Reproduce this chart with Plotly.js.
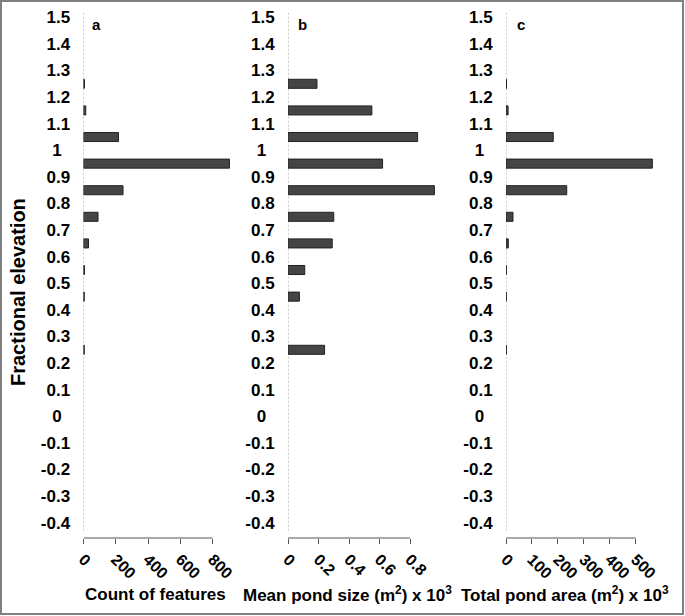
<!DOCTYPE html>
<html>
<head>
<meta charset="utf-8">
<script src="https://cdn.plot.ly/plotly-3.0.1.min.js"></script>
<style>
  html, body { margin: 0; padding: 0; background: #fff; }
  #wrap { position: relative; width: 685px; height: 616px; }
  #chart { position: absolute; left: 0; top: 0; width: 685px; height: 616px; }
  #frame { position: absolute; left: 0; top: 0; width: 684px; height: 615px; box-sizing: border-box; border: 2px solid #808080; pointer-events: none; }
</style>
</head>
<body>
<div id="wrap"><div id="chart"></div><div id="frame"></div></div>
<script>
// ---- data ----
const elevation = [1.25, 1.15, 1.05, 0.95, 0.85, 0.75, 0.65, 0.55, 0.45, 0.35, 0.25];
const countOfFeatures = [6, 14, 217, 905, 245, 90, 31, 6, 5, null, 5];
const meanPondSize = [0.19, 0.55, 0.85, 0.62, 0.96, 0.30, 0.29, 0.11, 0.075, null, 0.24];
const totalPondArea = [2, 8, 182, 564, 234, 27, 9, 1, 1, null, 1];

const yTickVals = [1.5, 1.4, 1.3, 1.2, 1.1, 1, 0.9, 0.8, 0.7, 0.6, 0.5, 0.4, 0.3, 0.2, 0.1, 0, -0.1, -0.2, -0.3, -0.4];
const yTickText = ['1.5', '1.4', '1.3', '1.2', '1.1', '1\u2002', '0.9', '0.8', '0.7', '0.6', '0.5', '0.4', '0.3', '0.2', '0.1', '0\u2002', '-0.1', '-0.2', '-0.3', '-0.4'];

const xTicksA = [0, 200, 400, 600, 800];
const xTicksB = [0, 0.2, 0.4, 0.6, 0.8];
const xTicksC = [0, 100, 200, 300, 400, 500];

const panelLetters = ['a', 'b', 'c'];
const xTitles = ['Count of features', 'Mean pond size (m<sup>2</sup>) x 10<sup>3</sup>', 'Total pond area (m<sup>2</sup>) x 10<sup>3</sup>'];
const yTitle = 'Fractional elevation';

// ---- styling / layout ----
const W = 685, H = 616;
const FONT = 'Arial, "Liberation Sans", sans-serif';
const px = v => v / W;
const py = v => 1 - v / H;

const yDomain = [py(538), py(12)];
const yRange = [-0.4575, 1.52];

const panels = [
  { x0: 83.5, x1: 231.9, range: [0, 920], ticks: xTicksA, data: countOfFeatures, letterX: 96, titleX: 155.5 },
  { x0: 288, x1: 440.5, range: [0, 1.0], ticks: xTicksB, data: meanPondSize, letterX: 302, titleX: 348 },
  { x0: 506, x1: 656.5, range: [0, 580], ticks: xTicksC, data: totalPondArea, letterX: 521, titleX: 565 }
];

const traces = [];
const layout = {
  width: W, height: H,
  margin: { l: 0, r: 0, t: 0, b: 0 },
  paper_bgcolor: '#fff', plot_bgcolor: '#fff',
  showlegend: false,
  bargap: 0,
  shapes: [],
  annotations: []
};

panels.forEach((p, i) => {
  const n = i === 0 ? '' : String(i + 1);
  traces.push({
    type: 'bar', orientation: 'h',
    x: p.data, y: elevation,
    xaxis: 'x' + n, yaxis: 'y' + n,
    width: 0.034,
    marker: { color: '#454545', line: { color: '#222222', width: 1 } },
    hoverinfo: 'skip'
  });
  layout['xaxis' + n] = {
    domain: [px(p.x0), px(p.x1)],
    range: p.range,
    anchor: 'y' + n,
    showgrid: false, zeroline: false, showline: false,
    tickmode: 'array', tickvals: p.ticks, ticktext: p.ticks.map(String),
    ticks: 'outside', ticklen: 5, tickwidth: 1, tickcolor: '#555',
    tickangle: 45,
    tickfont: { family: FONT, size: 16, color: '#000', weight: 'bold' },
    fixedrange: true
  };
  layout['yaxis' + n] = {
    domain: yDomain,
    range: yRange,
    anchor: 'x' + n,
    showgrid: false, zeroline: false, showline: false,
    tickmode: 'array', tickvals: yTickVals, ticktext: yTickText,
    ticks: 'outside', ticklen: 9, tickcolor: 'rgba(0,0,0,0)',
    tickfont: { family: FONT, size: 17, color: '#000', weight: 'bold' },
    fixedrange: true
  };
  // dashed vertical axis at zero
  layout.shapes.push({
    type: 'line', xref: 'x' + n, yref: 'y' + n,
    x0: 0, x1: 0, y0: -0.43, y1: yRange[1],
    line: { color: '#9a9a9a', width: 1, dash: '2px,2px' }, layer: 'below'
  });
  // horizontal axis line up to the last tick
  layout.shapes.push({
    type: 'line', xref: 'x' + n, yref: 'y' + n + ' domain',
    x0: 0, x1: p.ticks[p.ticks.length - 1], y0: 0, y1: 0,
    line: { color: '#555', width: 1 }
  });
  layout.annotations.push({
    xref: 'paper', yref: 'paper', x: px(p.letterX), y: py(24),
    text: panelLetters[i], showarrow: false, xanchor: 'center', yanchor: 'middle',
    font: { family: FONT, size: 15, color: '#000', weight: 'bold' }
  });
  layout.annotations.push({
    xref: 'paper', yref: 'paper', x: px(p.titleX), y: py(594),
    text: xTitles[i], showarrow: false, xanchor: 'center', yanchor: 'middle',
    font: { family: FONT, size: 17, color: '#000', weight: 'bold' }
  });
});

layout.annotations.push({
  xref: 'paper', yref: 'paper', x: px(18), y: py(292),
  text: yTitle, showarrow: false, textangle: -90, xanchor: 'center', yanchor: 'middle',
  font: { family: FONT, size: 20, color: '#000', weight: 'bold' }
});

Plotly.newPlot('chart', traces, layout, { displayModeBar: false, staticPlot: true });
</script>
</body>
</html>
